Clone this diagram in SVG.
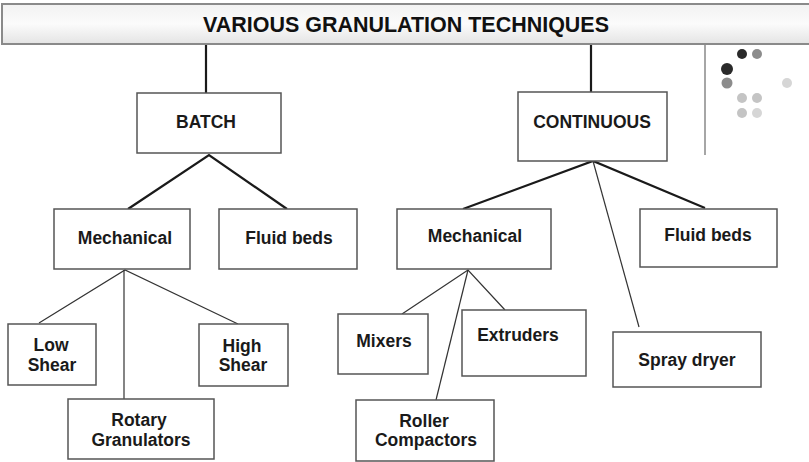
<svg xmlns="http://www.w3.org/2000/svg" width="809" height="462" viewBox="0 0 809 462">
<defs>
<linearGradient id="hdr" x1="0" y1="0" x2="0" y2="1">
<stop offset="0" stop-color="#f2f2f2"/>
<stop offset="0.5" stop-color="#fbfbfb"/>
<stop offset="1" stop-color="#e4e4e4"/>
</linearGradient>
<style>
.box{fill:#fff;stroke:#555;stroke-width:1.5}
.t{font-family:"Liberation Sans",Arial,sans-serif;font-weight:bold;font-size:17.5px;fill:#1a1a1a;text-anchor:middle}
.thick{stroke:#1a1a1a;stroke-width:2.2;fill:none}
.thin{stroke:#333;stroke-width:1.2;fill:none}
</style>
</defs>
<rect width="809" height="462" fill="#fff"/>
<g id="header">
<rect x="2" y="4" width="812" height="40" fill="url(#hdr)" stroke="#8a8a8a" stroke-width="2"/>
<text x="406" y="31.5" font-family="'Liberation Sans',Arial,sans-serif" font-weight="bold" font-size="22.5" fill="#111" text-anchor="middle" textLength="406" lengthAdjust="spacingAndGlyphs">VARIOUS GRANULATION TECHNIQUES</text>
</g>
<g id="decor">
<line x1="705" y1="45" x2="705" y2="155" stroke="#888" stroke-width="1.5"/>
<circle cx="742" cy="54" r="5" fill="#2a2a2a"/>
<circle cx="757" cy="54" r="5" fill="#8c8c8c"/>
<circle cx="727" cy="69" r="6" fill="#2a2a2a"/>
<circle cx="727" cy="83" r="5.5" fill="#8c8c8c"/>
<circle cx="787" cy="83" r="5" fill="#d6d6d6"/>
<circle cx="742" cy="98" r="5" fill="#c4c4c4"/>
<circle cx="757" cy="98" r="5" fill="#c4c4c4"/>
<circle cx="742" cy="113" r="5" fill="#c4c4c4"/>
<circle cx="757" cy="113" r="5" fill="#d6d6d6"/>
</g>
<g id="connectors">
<line class="thick" x1="206" y1="45" x2="206" y2="93"/>
<line class="thick" x1="591" y1="45" x2="591" y2="92"/>
<polyline class="thick" points="128,209 209,155 287,209"/>
<polyline class="thick" points="463,209 593,161 705,208"/>
<line class="thin" x1="593" y1="161" x2="639" y2="327"/>
<polyline class="thin" points="39,323 125,270 238,324"/>
<line class="thin" x1="124" y1="270" x2="124" y2="399"/>
<polyline class="thin" points="402,314 468,270 505,310"/>
<line class="thin" x1="468" y1="270" x2="436" y2="400"/>
</g>
<g id="batch"><rect class="box" x="137" y="93" width="144" height="60"/><text class="t" x="206" y="128">BATCH</text></g>
<g id="continuous"><rect class="box" x="518" y="92" width="149" height="69"/><text class="t" x="592" y="128">CONTINUOUS</text></g>
<g id="mech1"><rect class="box" x="54" y="209" width="136" height="60"/><text class="t" x="125" y="244">Mechanical</text></g>
<g id="fluid1"><rect class="box" x="219" y="209" width="138" height="60"/><text class="t" x="289" y="244">Fluid beds</text></g>
<g id="mech2"><rect class="box" x="397" y="209" width="154" height="60"/><text class="t" x="475" y="242">Mechanical</text></g>
<g id="fluid2"><rect class="box" x="640" y="209" width="137" height="58"/><text class="t" x="708" y="241">Fluid beds</text></g>
<g id="lowshear"><rect class="box" x="8" y="324" width="88" height="61"/><text class="t" x="51" y="351">Low</text><text class="t" x="52" y="371">Shear</text></g>
<g id="highshear"><rect class="box" x="199" y="324" width="89" height="62"/><text class="t" x="242" y="352">High</text><text class="t" x="243" y="371">Shear</text></g>
<g id="rotary"><rect class="box" x="68" y="399" width="146" height="60"/><text class="t" x="139" y="426">Rotary</text><text class="t" x="141" y="445.5">Granulators</text></g>
<g id="mixers"><rect class="box" x="338" y="314" width="90" height="60"/><text class="t" x="384" y="347">Mixers</text></g>
<g id="extruders"><rect class="box" x="462" y="310" width="124" height="66"/><text class="t" x="518" y="341">Extruders</text></g>
<g id="spraydryer"><rect class="box" x="613" y="332" width="148" height="55"/><text class="t" x="687" y="366">Spray dryer</text></g>
<g id="roller"><rect class="box" x="356" y="400" width="138" height="61"/><text class="t" x="424" y="427">Roller</text><text class="t" x="426" y="446">Compactors</text></g>
</svg>
